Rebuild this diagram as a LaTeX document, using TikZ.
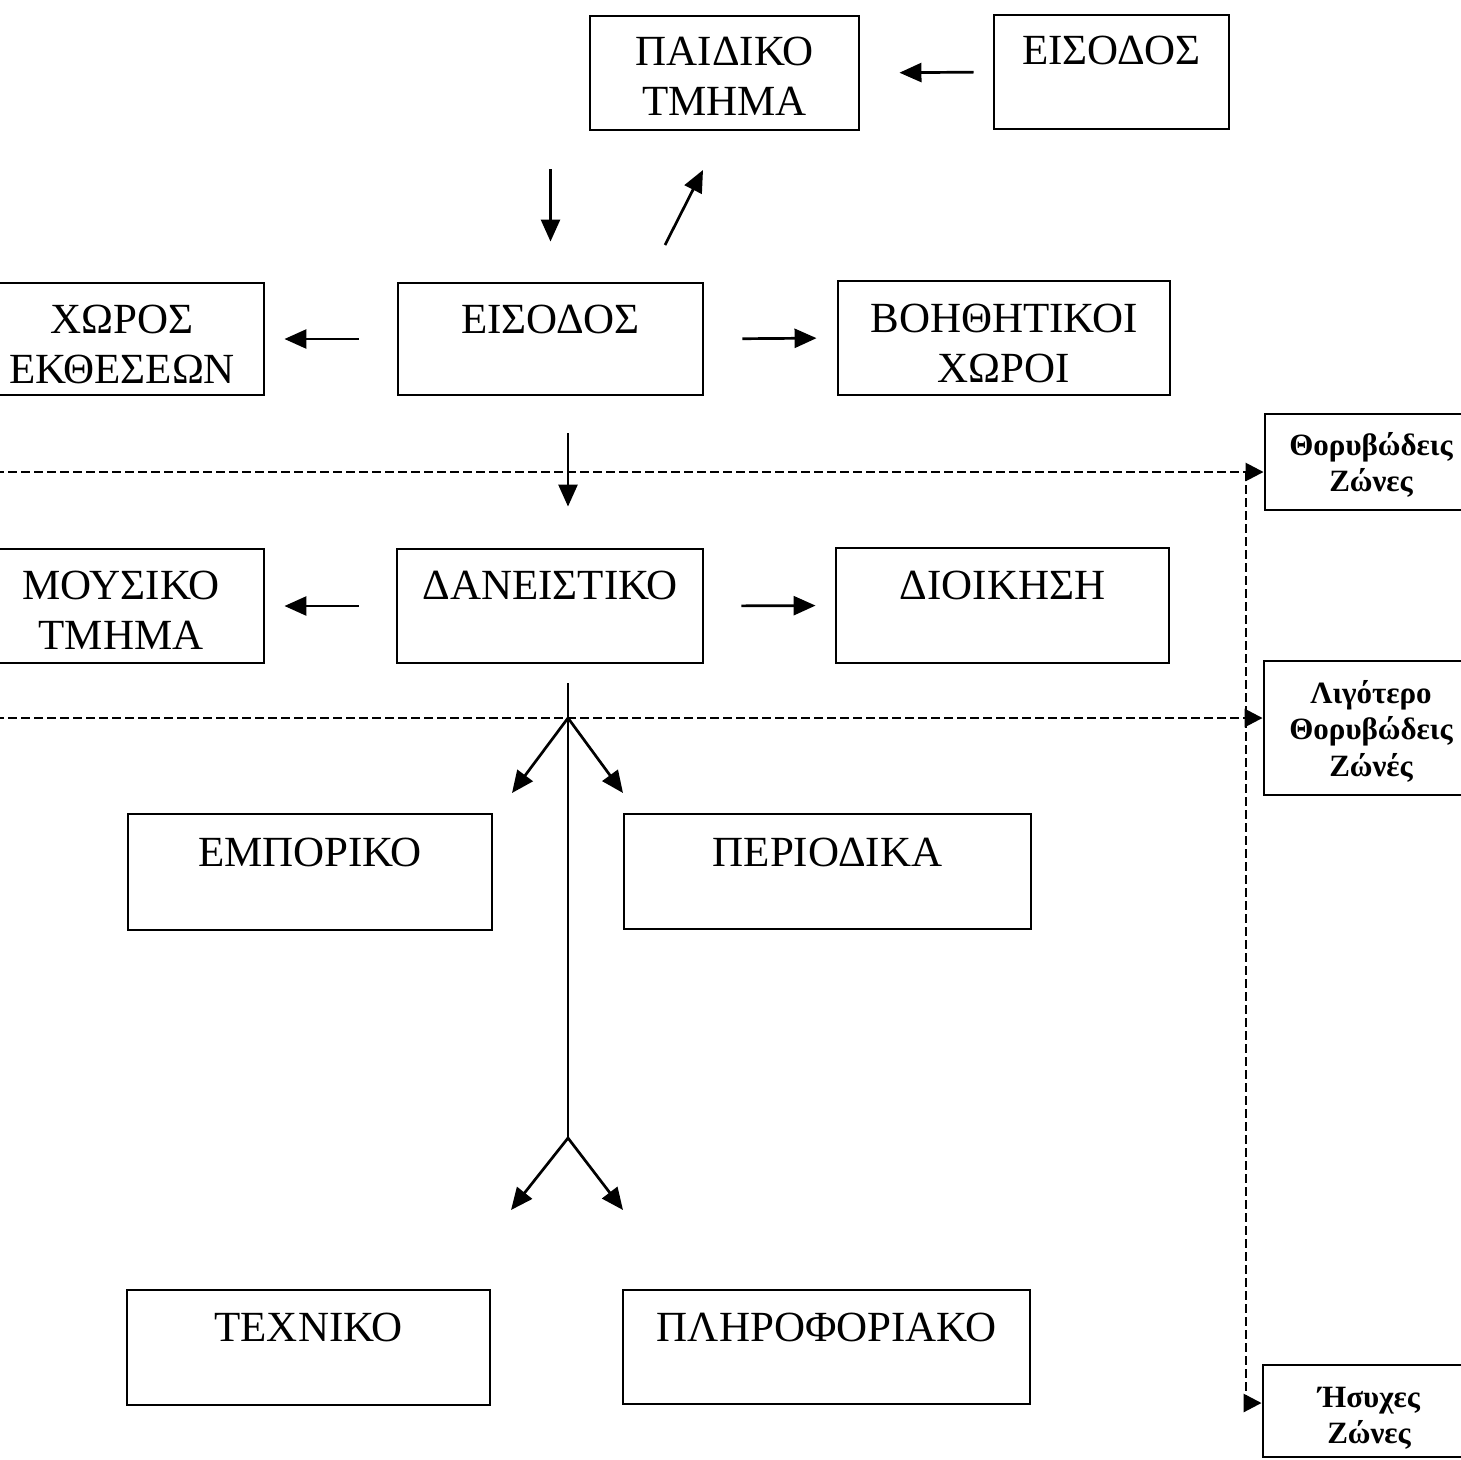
\documentclass[tikz,border=0pt]{standalone}
\usepackage{fontspec}
\setmainfont{Liberation Serif}
\usetikzlibrary{arrows.meta}

% box text: fixed-size parbox, lines set from the top edge
\newcommand\topcell[4]{\parbox[c][#2][t]{#1}{\centering\rule{0pt}{#3}#4}}

\tikzset{
  blk/.style={draw, line width=2.9pt, inner sep=0pt,
    font=\fontsize{43}{50}\selectfont},
  zone/.style={draw, line width=2.9pt, inner sep=0pt,
    font=\fontsize{31}{36.5}\selectfont\bfseries},
  arr/.style={line width=2.7pt, -{Triangle[length=22pt,width=19pt]}},
  stem/.style={line width=2.7pt},
  zarr/.style={line width=2.7pt, dash pattern=on 9pt off 4pt,
    -{Triangle[length=18pt,width=18pt]}},
  zline/.style={line width=2.7pt, dash pattern=on 9pt off 4pt},
}

\begin{document}
\begin{tikzpicture}[x=1pt,y=-1pt]
\useasboundingbox (0,0) rectangle (1461,1459);
\begin{scope}
\clip (0,0) rectangle (1461,1459);

% upper floor boxes
\node[blk] (p)  at (724.5,73)   {\topcell{269pt}{114pt}{49pt}{ΠΑΙΔΙΚΟ\\ΤΜΗΜΑ}};
\node[blk] (e1) at (1111.5,72)  {\topcell{235pt}{114pt}{49pt}{ΕΙΣΟΔΟΣ}};
\node[blk] (xo) at (122,339)    {\topcell{284pt}{112pt}{50pt}{ΧΩΡΟΣ\\ΕΚΘΕΣΕΩΝ}};
\node[blk] (e2) at (550.5,339)  {\topcell{305pt}{112pt}{50pt}{ΕΙΣΟΔΟΣ}};
\node[blk] (bo) at (1004,338)   {\topcell{332pt}{114pt}{51pt}{ΒΟΗΘΗΤΙΚΟΙ\\ΧΩΡΟΙ}};

% middle row
\node[blk] (mo) at (121,606)    {\topcell{286pt}{114pt}{50pt}{ΜΟΥΣΙΚΟ\\ΤΜΗΜΑ}};
\node[blk] (da) at (550,606)    {\topcell{306pt}{114pt}{50pt}{ΔΑΝΕΙΣΤΙΚΟ}};
\node[blk] (di) at (1002.5,605.5) {\topcell{333pt}{115pt}{51pt}{ΔΙΟΙΚΗΣΗ}};

% quiet sections
\node[blk] (em) at (310,872)    {\topcell{364pt}{116pt}{52pt}{ΕΜΠΟΡΙΚΟ}};
\node[blk] (pe) at (827.5,871.5) {\topcell{407pt}{115pt}{52pt}{ΠΕΡΙΟΔΙΚΑ}};
\node[blk] (te) at (308.5,1347.5) {\topcell{363pt}{115pt}{51pt}{ΤΕΧΝΙΚΟ}};
\node[blk] (pl) at (826.5,1347) {\topcell{407pt}{114pt}{51pt}{ΠΛΗΡΟΦΟΡΙΑΚΟ}};

% zone legend
\node[zone] (z1) at (1371,462)  {\topcell{212pt}{96pt}{41pt}{Θορυβώδεις\\Ζώνες}};
\node[zone] (z2) at (1371,728)  {\topcell{214pt}{134pt}{42pt}{Λιγότερο\\Θορυβώδεις\\Ζώνές}};
\node[zone] (z3) at (1369,1411) {\topcell{212pt}{92pt}{42pt}{Ήσυχες\\Ζώνες}};

% free ends of the floating connectors
\coordinate (u1) at (665,245);
\coordinate (u2) at (703,170);
\coordinate (t0) at (568,683);
\coordinate (t1) at (568,718);
\coordinate (t2) at (568,1138);
\coordinate (a1) at (512,793);
\coordinate (a2) at (623,793);
\coordinate (b1) at (511,1210);
\coordinate (b2) at (623,1210);
\coordinate (d1) at (-5,472);
\coordinate (d2) at (-5,718);
\coordinate (v0) at (1246,472);
\coordinate (v1) at (1246,1403);

% circulation arrows
\draw[arr, shorten <=19pt, shorten >=39pt] (e1.west) -- (p.east);
\draw[arr, shorten <=38pt, shorten >=40pt] (e2.north |- p.south) -- (e2.north);
\draw[arr] (u1) -- (u2);
\draw[arr, shorten <=38pt, shorten >=19pt] (e2.west) -- (xo.east);
\draw[arr, shorten <=38pt, shorten >=20pt] (e2.east) -- (bo.west);
\draw[arr, shorten <=37pt, shorten >=41pt] ([xshift=17.5pt]e2.south) -- ([xshift=18pt]da.north);
\draw[arr, shorten <=37pt, shorten >=19pt] (da.west) -- (mo.east);
\draw[arr, shorten <=37pt, shorten >=19pt] (da.east) -- (di.west);

% trunk and branches
\draw[stem] (t0) -- (t2);
\draw[arr] (t1) -- (a1);
\draw[arr] (t1) -- (a2);
\draw[arr] (t2) -- (b1);
\draw[arr] (t2) -- (b2);

% zone boundaries
\draw[zarr] (d1) -- (d1 -| z1.west);
\draw[zarr] (d2) -- (d2 -| z2.west);
\draw[zline] (v0) -- (v1);
\draw[zarr] (v1) -- (v1 -| z3.west);
\end{scope}
\end{tikzpicture}
\end{document}
